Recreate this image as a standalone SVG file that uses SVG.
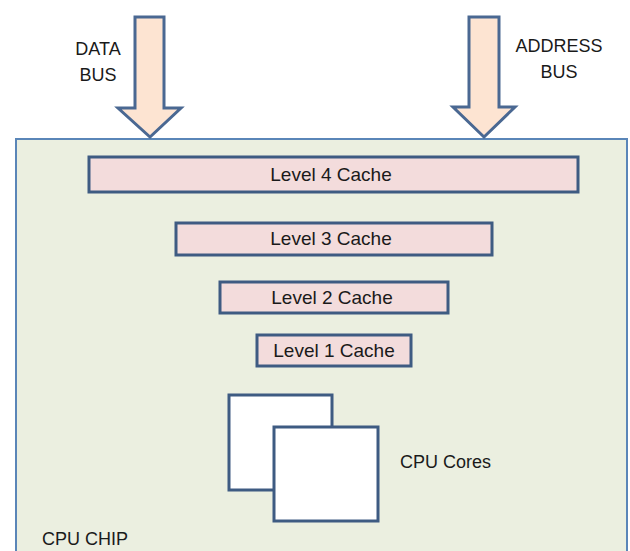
<svg xmlns="http://www.w3.org/2000/svg" width="630" height="551" viewBox="0 0 630 551">
<style>
text{font-family:"Liberation Sans",Arial,sans-serif;font-size:18px;fill:#1a1a1a}
.lbl{font-size:19px}
.chip{fill:#ebefe0;stroke:#5a86b8;stroke-width:2}
.cache{fill:#f3dcdc;stroke:#3e5b82;stroke-width:3}
.core{fill:#ffffff;stroke:#3e5b82;stroke-width:3}
.bus{fill:#fde4d2;stroke:#4a6892;stroke-width:3;stroke-linejoin:miter}
</style>
<rect width="630" height="551" fill="#ffffff"/>
<g id="cpu-chip">
<rect class="chip" x="16" y="139" width="611" height="420"/>
<text x="42" y="545">CPU CHIP</text>
</g>
<g id="connectors">
<g id="data-bus">
<path class="bus" d="M135,17 H164 V108 H181 L150,137 L118,108 H135 Z"/>
<text x="98" y="55" text-anchor="middle">DATA</text>
<text x="98" y="81" text-anchor="middle">BUS</text>
</g>
<g id="address-bus">
<path class="bus" d="M469,17 H499 V107 H515 L484,137 L453,107 H469 Z"/>
<text x="559" y="52" text-anchor="middle">ADDRESS</text>
<text x="559" y="78" text-anchor="middle">BUS</text>
</g>
</g>
<g id="level4">
<rect class="cache" x="89" y="157" width="489" height="35"/>
<text class="lbl" x="331" y="181" text-anchor="middle">Level 4 Cache</text>
</g>
<g id="level3">
<rect class="cache" x="176" y="223" width="316" height="32"/>
<text class="lbl" x="331" y="245" text-anchor="middle">Level 3 Cache</text>
</g>
<g id="level2">
<rect class="cache" x="220" y="282" width="228" height="31"/>
<text class="lbl" x="332" y="304" text-anchor="middle">Level 2 Cache</text>
</g>
<g id="level1">
<rect class="cache" x="257" y="335" width="154" height="31"/>
<text class="lbl" x="334" y="357" text-anchor="middle">Level 1 Cache</text>
</g>
<g id="cpu-cores">
<rect class="core" x="229" y="395" width="103" height="95"/>
<rect class="core" x="274" y="427" width="104" height="94"/>
<text x="400" y="468">CPU Cores</text>
</g>
</svg>
